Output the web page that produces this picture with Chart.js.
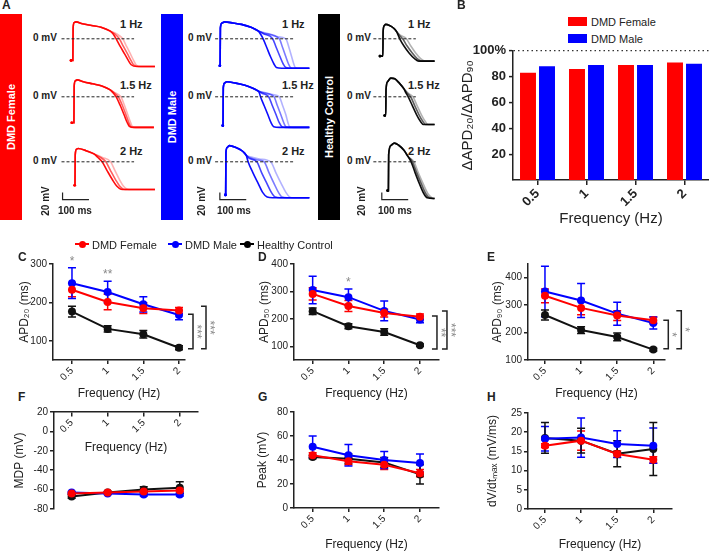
<!DOCTYPE html>
<html>
<head>
<meta charset="utf-8">
<script src="https://cdn.jsdelivr.net/npm/chart.js@4.4.0/dist/chart.umd.min.js"></script>
<style>
html, body { margin: 0; padding: 0; background: #fff; }
#fig { position: relative; width: 709px; height: 553px; overflow: hidden; font-family: 'Liberation Sans', Arial, sans-serif; color: #222; }
#fig canvas { position: absolute; }
.lbl { position: absolute; white-space: nowrap; line-height: 1; }
.blk { position: absolute; }
</style>
</head>
<body>
<div id="fig"></div>
<script>
// ---------- data ----------
const freqs = [0.5, 1, 1.5, 2];
const freqLabels = ['0.5', '1', '1.5', '2'];

// B: dAPD20/dAPD90 (%)
const ratioFemale = [83, 86, 89, 91];
const ratioMale = [88, 89, 89, 90];
const ratioTicks = [20, 40, 60, 80, 100];
const ratioTickLabels = ['20', '40', '60', '80', '100%'];

// C: APD20 (ms)
const apd20Female = [233, 201, 185, 179], apd20FemaleSem = [18, 20, 14, 8];
const apd20Male = [250, 227, 195, 167], apd20MaleSem = [40, 28, 20, 12];
const apd20Control = [176, 131, 117, 82], apd20ControlSem = [14, 8, 10, 5];
const apd20Ticks = [100, 200, 300];
const apd20Brackets = [[169, 79, '***'], [190, 79, '***']];
const apd20Stars = [[0.5, 305, '*'], [1, 271, '**']];

// D: APD50 (ms)
const apd50Female = [291, 247, 221, 208], apd50FemaleSem = [22, 20, 14, 10];
const apd50Male = [305, 279, 229, 198], apd50MaleSem = [50, 30, 36, 12];
const apd50Control = [228, 173, 152, 104], apd50ControlSem = [12, 9, 12, 4];
const apd50Ticks = [100, 200, 300, 400];
const apd50Brackets = [[210, 90, '**'], [229, 90, '***']];
const apd50Stars = [[1, 333, '*']];

// E: APD90 (ms)
const apd90Female = [334, 290, 262, 245], apd90FemaleSem = [25, 25, 18, 12];
const apd90Male = [350, 317, 269, 235], apd90MaleSem = [92, 62, 42, 22];
const apd90Control = [264, 209, 184, 138], apd90ControlSem = [18, 12, 14, 5];
const apd90Ticks = [100, 200, 300, 400];
const apd90Brackets = [[245, 141, '*'], [280, 141, '*']];

// F: MDP (mV)
const mdpFemale = [-64, -63, -62, -61], mdpFemaleSem = [1, 1, 1, 1];
const mdpMale = [-63, -64, -65, -65], mdpMaleSem = [1, 1, 1.5, 1.5];
const mdpControl = [-67, -63, -60, -58], mdpControlSem = [2, 1, 3, 6];
const mdpTicks = [-80, -60, -40, -20, 0, 20];

// G: Peak (mV)
const peakFemale = [44, 39, 36, 29], peakFemaleSem = [2, 3, 4, 3];
const peakMale = [51, 44, 40, 37.5], peakMaleSem = [9, 9, 7, 7.5];
const peakControl = [42.5, 41, 38, 28], peakControlSem = [1.5, 4, 4, 8];
const peakTicks = [0, 20, 40, 60, 80];

// H: dV/dt max (mV/ms)
const dvdtFemale = [16.5, 17.8, 14.3, 12.8], dvdtFemaleSem = [0.5, 2.5, 0.8, 0.8];
const dvdtMale = [18.3, 18.6, 16.9, 16.5], dvdtMaleSem = [3.2, 5.1, 3.5, 4.6];
const dvdtControl = [18.5, 17.8, 14.4, 15.6], dvdtControlSem = [4, 3.2, 3.4, 6.9];
const dvdtTicks = [0, 5, 10, 15, 20, 25];

// A: action potential traces, [ms, mV]; "up" = upstroke + plateau, tails = repolarisations (late -> early)
const fem1Up = [[-7,-60],[0,-60],[1,30],[5,45],[12,47],[36,42],[71,37],[107,32],[140,22]];
const fem1Tails = [
  [[165,14],[189,0],[204,-22],[218,-42],[230,-60],[239,-72],[257,-77],[311,-77]],
  [[158,14],[176,0],[192,-22],[207,-42],[220,-60],[230,-72],[250,-77],[311,-77]],
  [[152,14],[164,0],[180,-22],[196,-42],[210,-60],[221,-72],[243,-77],[311,-77]]
];
const fem2Up = [[-4,-72],[4,-72],[5,30],[9,44],[16,47],[40,42],[75,36],[110,30],[140,20]];
const fem2Tails = [
  [[156,13],[182,0],[196,-25],[208,-50],[218,-70],[225,-82],[240,-85],[307,-85]],
  [[153,13],[172,0],[188,-25],[201,-50],[211,-70],[219,-82],[235,-85],[307,-85]],
  [[150,13],[164,0],[180,-25],[194,-50],[205,-70],[214,-82],[230,-85],[307,-85]]
];
const fem3Up = [[7,-65],[8,-65],[9,20],[14,35],[20,37],[50,31],[80,22]];
const fem3Tails = [
  [[112,12],[143,0],[160,-25],[177,-50],[192,-68],[207,-76],[220,-77],[311,-77]],
  [[105,12],[125,0],[143,-25],[162,-50],[178,-68],[192,-76],[210,-77],[311,-77]],
  [[95,12],[111,0],[130,-25],[150,-50],[167,-68],[182,-76],[200,-77],[311,-77]]
];
const male1Up = [[0,-75],[1,-75],[2,30],[8,44],[18,47],[50,44],[82,40],[118,32],[145,22]];
const male1Tails = [
  [[175,16],[215,6],[250,0],[262,-25],[272,-50],[280,-70],[286,-80],[300,-82],[339,-82]],
  [[170,15],[225,0],[238,-25],[250,-50],[260,-70],[268,-80],[285,-82],[339,-82]],
  [[165,14],[200,0],[214,-25],[228,-50],[240,-70],[250,-80],[270,-82],[339,-82]],
  [[155,12],[164,0],[178,-25],[192,-50],[205,-70],[214,-80],[235,-82],[339,-82]]
];
const male2Up = [[11,-80],[12,-80],[13,25],[18,38],[26,42],[60,38],[95,32],[125,24],[145,16]];
const male2Tails = [
  [[170,12],[200,6],[225,0],[238,-25],[250,-50],[258,-72],[264,-83],[280,-85],[339,-85]],
  [[165,11],[205,0],[218,-25],[231,-50],[242,-72],[250,-83],[265,-85],[339,-85]],
  [[160,10],[185,0],[199,-25],[213,-50],[225,-72],[235,-83],[250,-85],[339,-85]],
  [[150,10],[154,0],[168,-25],[182,-50],[194,-72],[204,-83],[225,-85],[339,-85]]
];
const male3Up = [[21,-92],[22,-92],[23,25],[28,40],[36,45],[60,40],[85,30],[100,18]];
const male3Tails = [
  [[115,14],[150,8],[193,0],[212,-30],[232,-60],[250,-85],[265,-98],[280,-100],[339,-100]],
  [[112,12],[145,5],[168,0],[186,-30],[205,-60],[222,-85],[236,-98],[255,-100],[339,-100]],
  [[110,10],[140,0],[158,-30],[178,-60],[195,-85],[210,-98],[230,-100],[339,-100]],
  [[104,8],[107,0],[125,-30],[145,-60],[162,-85],[179,-98],[200,-100],[339,-100]]
];
const ctl1Up = [[-11,-48],[0,-48],[1,20],[5,36],[11,40],[25,37],[40,30],[52,20]];
const ctl1Tails = [
  [[66,10],[89,0],[106,-20],[125,-40],[143,-55],[161,-62],[196,-62]],
  [[62,10],[75,0],[92,-20],[112,-40],[130,-55],[148,-62],[196,-62]],
  [[58,10],[64,0],[80,-20],[100,-40],[120,-55],[136,-62],[196,-62]]
];
const ctl2Up = [[7,-52],[11,-52],[12,20],[18,42],[30,52],[45,50],[60,40],[80,22]];
const ctl2Tails = [
  [[96,10],[114,0],[130,-25],[146,-50],[160,-68],[171,-77],[196,-77]],
  [[92,10],[105,0],[121,-25],[137,-50],[151,-68],[163,-77],[196,-77]],
  [[88,10],[96,0],[112,-25],[128,-50],[142,-68],[154,-77],[196,-77]]
];
const ctl3Up = [[18,-80],[21,-80],[22,20],[30,45],[43,52],[60,46],[80,32],[95,15]];
const ctl3Tails = [
  [[118,0],[134,-30],[152,-60],[170,-88],[186,-100],[196,-102]],
  [[112,0],[128,-30],[145,-60],[162,-88],[177,-100],[196,-102]],
  [[107,0],[122,-30],[138,-60],[155,-88],[168,-100],[196,-102]]
];
const femZeroLine = [[-43,0],[232,0]];
const maleZeroLine = [[-18,0],[279,0]];
const ctlZeroLine = [[-36,0],[125,0]];
const femScaleBar = [[-39,-85],[-39,-105],[61,-105]];
const maleScaleBar = [[0,-85],[0,-105],[100,-105]];
const ctlScaleBar = [[-4,-85],[-4,-105],[96,-105]];

// ---------- helpers ----------
const RED = 'rgb(255,0,0)', BLUE = 'rgb(0,0,255)', BLACK = '#111';
const INK = '#222';
Chart.defaults.font.family = "'Liberation Sans', Arial, sans-serif";
Chart.defaults.color = INK;
const fig = document.getElementById('fig');

function makeCanvas(l, t, w, h) {
  const c = document.createElement('canvas');
  c.width = w; c.height = h;
  c.style.left = l + 'px'; c.style.top = t + 'px';
  fig.appendChild(c);
  return c;
}

function label(text, x, y, o = {}) {
  const d = document.createElement('div');
  d.className = 'lbl';
  d.textContent = text;
  d.style.left = x + 'px';
  d.style.top = y + 'px';
  d.style.fontSize = (o.size || 11) + 'px';
  if (o.bold) d.style.fontWeight = 'bold';
  if (o.color) d.style.color = o.color;
  d.style.transform = o.rotate ? 'translate(-50%,-50%) rotate(-90deg)' : 'translateY(-50%)';
  fig.appendChild(d);
  return d;
}

function block(x, y, w, h, bg, extra) {
  const d = document.createElement('div');
  d.className = 'blk';
  Object.assign(d.style, { left: x + 'px', top: y + 'px', width: w + 'px', height: h + 'px', background: bg }, extra || {});
  fig.appendChild(d);
}

const pts = arr => arr.map(([x, y]) => ({ x, y }));

// ---------- panel A ----------
const PX_MS = 0.28, PX_MV = 0.4, TW = 140, TH = 80;

function traceChart(left, top, rgb, up, tails, zero, bar) {
  const c = makeCanvas(left, top, TW, TH);
  const xMin = -20 / PX_MS, yMax = 32 / PX_MV;
  const n = tails.length;
  const ds = tails.map((tail, i) => ({
    data: pts(up.concat(tail)),
    borderColor: `rgba(${rgb},${(0.3 + 0.65 * i / (n - 1)).toFixed(2)})`,
    pointBackgroundColor: `rgba(${rgb},0.9)`,
    pointRadius: c => c.dataIndex === 0 ? 1.3 : 0,
    borderWidth: 1.6
  }));
  ds.unshift({ data: pts(zero), borderColor: INK, borderWidth: 1, borderDash: [3, 2] });
  if (bar) ds.push({ data: pts(bar), borderColor: INK, borderWidth: 1.2 });
  new Chart(c, {
    type: 'scatter',
    data: { datasets: ds.map(d => Object.assign({ showLine: true, pointRadius: 0, pointBorderWidth: 0, cubicInterpolationMode: 'monotone' }, d)) },
    options: {
      responsive: false, animation: false,
      plugins: { legend: { display: false }, tooltip: { enabled: false } },
      layout: { padding: 0 },
      scales: {
        x: { type: 'linear', display: false, min: xMin, max: xMin + TW / PX_MS },
        y: { display: false, min: yMax - TH / PX_MV, max: yMax }
      }
    }
  });
}

label('A', 2, 5, { bold: true, size: 12 });
block(0, 14, 22, 206, RED);
block(161, 14, 22, 206, BLUE);
block(318, 14, 22, 206, '#000');
label('DMD Female', 11, 117, { bold: true, rotate: true, color: '#fff', size: 11 });
label('DMD Male', 172, 117, { bold: true, rotate: true, color: '#fff', size: 11 });
label('Healthy Control', 329, 117, { bold: true, rotate: true, color: '#fff', size: 11 });

const rowZero = [38, 96, 161];
const rowHz = ['1 Hz', '1.5 Hz', '2 Hz'];
const rowHzY = [24, 85, 151];
[[33, 120], [188, 282], [347, 408]].forEach(([zx, hx]) => {
  rowZero.forEach(z => label('0 mV', zx, z, { bold: true, size: 10 }));
  rowHz.forEach((h, i) => label(h, hx, rowHzY[i], { bold: true, size: 11 }));
});

traceChart(50, rowZero[0] - 32, '255,0,0', fem1Up, fem1Tails, femZeroLine);
traceChart(50, rowZero[1] - 32, '255,0,0', fem2Up, fem2Tails, femZeroLine);
traceChart(50, rowZero[2] - 32, '255,0,0', fem3Up, fem3Tails, femZeroLine, femScaleBar);
traceChart(197, rowZero[0] - 32, '0,0,255', male1Up, male1Tails, maleZeroLine);
traceChart(197, rowZero[1] - 32, '0,0,255', male2Up, male2Tails, maleZeroLine);
traceChart(197, rowZero[2] - 32, '0,0,255', male3Up, male3Tails, maleZeroLine, maleScaleBar);
traceChart(360, rowZero[0] - 32, '0,0,0', ctl1Up, ctl1Tails, ctlZeroLine);
traceChart(360, rowZero[1] - 32, '0,0,0', ctl2Up, ctl2Tails, ctlZeroLine);
traceChart(360, rowZero[2] - 32, '0,0,0', ctl3Up, ctl3Tails, ctlZeroLine, ctlScaleBar);

[[46, 58], [202, 217], [362, 378]].forEach(([vx, hx]) => {
  label('20 mV', vx, 201, { bold: true, size: 10, rotate: true });
  label('100 ms', hx, 211, { bold: true, size: 10 });
});

// ---------- panel B ----------
label('B', 457, 5, { bold: true, size: 12 });
block(568, 17, 19, 9, RED);
block(568, 34, 19, 9, BLUE);
label('DMD Female', 591, 21.5, { size: 11 });
label('DMD Male', 591, 38.5, { size: 11 });

new Chart(makeCanvas(455, 40, 254, 192), {
  type: 'bar',
  data: {
    labels: freqLabels,
    datasets: [
      { label: 'DMD Female', data: ratioFemale, backgroundColor: RED },
      { label: 'DMD Male', data: ratioMale, backgroundColor: BLUE }
    ]
  },
  options: {
    responsive: false, animation: false,
    datasets: { bar: { categoryPercentage: 0.776, barPercentage: 0.84 } },
    plugins: { legend: { display: false }, tooltip: { enabled: false } },
    layout: { padding: { top: 10, left: 0, right: 0, bottom: 0 } },
    scales: {
      x: {
        grid: { display: true, offset: false, drawOnChartArea: false, tickLength: 5, color: INK, lineWidth: 1.5 },
        border: { color: INK, width: 1.5 },
        ticks: { font: { size: 13, weight: 'bold' }, color: INK, minRotation: 45, maxRotation: 45, padding: 1 },
        title: { display: true, text: 'Frequency (Hz)', font: { size: 15 }, color: INK, padding: 4 },
        afterFit: s => { s.height = 52; }
      },
      y: {
        min: 0, max: 100,
        afterBuildTicks: s => { s.ticks = ratioTicks.map(v => ({ value: v })); },
        ticks: { font: { size: 13, weight: 'bold' }, color: INK, padding: 3, callback: (v, i) => ratioTickLabels[i] },
        grid: { display: true, tickLength: 4, lineWidth: 1.2, color: c => c.tick && c.tick.value === 100 ? '#333' : 'rgba(0,0,0,0)', tickColor: INK, tickWidth: 1.5 },
        border: { color: INK, width: 1.5, dash: [1.5, 3] },
        title: { display: true, text: 'ΔAPD₂₀/ΔAPD₉₀', font: { size: 15 }, color: INK, padding: 4 },
        afterFit: s => { s.width = 58; }
      }
    }
  }
});

// ---------- panels C-H ----------
const errorBars = {
  id: 'errorBars',
  beforeDatasetsDraw(chart) {
    const { ctx } = chart, ys = chart.scales.y;
    chart.data.datasets.forEach((ds, i) => {
      const meta = chart.getDatasetMeta(i);
      ctx.save();
      ctx.strokeStyle = ds.borderColor;
      ctx.lineWidth = 1.5;
      meta.data.forEach((p, j) => {
        const v = ds.data[j].y, e = ds.errors[j];
        const y1 = ys.getPixelForValue(v + e), y2 = ys.getPixelForValue(v - e);
        ctx.beginPath();
        ctx.moveTo(p.x, y1); ctx.lineTo(p.x, y2);
        ctx.moveTo(p.x - 4, y1); ctx.lineTo(p.x + 4, y1);
        ctx.moveTo(p.x - 4, y2); ctx.lineTo(p.x + 4, y2);
        ctx.stroke();
      });
      ctx.restore();
    });
  }
};

const sigMarks = {
  id: 'sigMarks',
  afterDraw(chart, args, o) {
    const { ctx } = chart, xs = chart.scales.x, ys = chart.scales.y;
    ctx.save();
    (o.brackets || []).forEach(([from, to, txt], i) => {
      const xr = xs.getPixelForValue(2) + o.dx[i];
      const y1 = ys.getPixelForValue(from), y2 = ys.getPixelForValue(to);
      ctx.strokeStyle = INK; ctx.lineWidth = 1.5;
      ctx.beginPath();
      ctx.moveTo(xr - 5, y1); ctx.lineTo(xr, y1); ctx.lineTo(xr, y2); ctx.lineTo(xr - 5, y2);
      ctx.stroke();
      ctx.save();
      ctx.translate(xr + 3, (y1 + y2) / 2);
      ctx.rotate(Math.PI / 2);
      ctx.fillStyle = '#888'; ctx.font = "12px 'Liberation Sans', Arial";
      ctx.textAlign = 'center'; ctx.textBaseline = 'middle';
      ctx.fillText(txt, 0, 0);
      ctx.restore();
    });
    (o.stars || []).forEach(([fx, v, txt]) => {
      ctx.fillStyle = '#888'; ctx.font = "12px 'Liberation Sans', Arial";
      ctx.textAlign = 'center'; ctx.textBaseline = 'middle';
      ctx.fillText(txt, xs.getPixelForValue(fx), ys.getPixelForValue(v));
    });
    ctx.restore();
  }
};

function freqChart(g, yTitle, yMin, yMax, yTicks, series, sig) {
  const padLeft = g.titleX - g.l - 4 - 7.2;
  const yWidth = g.L - g.l - padLeft;
  const floatX = g.xAt !== undefined;
  new Chart(makeCanvas(g.l, g.t, g.w, g.h), {
    type: 'scatter',
    data: {
      datasets: series.map(([mean, sem, color]) => ({
        data: freqs.map((f, i) => ({ x: f, y: mean[i] })),
        errors: sem, showLine: true,
        borderColor: color, backgroundColor: color, borderWidth: 2,
        pointRadius: 4, pointBorderWidth: 0
      }))
    },
    options: {
      responsive: false, animation: false,
      plugins: { legend: { display: false }, tooltip: { enabled: false }, sigMarks: sig || {} },
      layout: { padding: { left: padLeft, top: g.T - g.t, right: g.l + g.w - g.R, bottom: floatX ? g.t + g.h - g.B : 0 } },
      scales: {
        x: {
          type: 'linear', min: g.xMin, max: g.xMax,
          position: floatX ? { y: g.xAt } : 'bottom',
          afterBuildTicks: s => { s.ticks = freqs.map(v => ({ value: v })); },
          ticks: { callback: (v, i) => freqLabels[i], minRotation: 45, maxRotation: 45, font: { size: 10 }, color: INK, padding: 1 },
          grid: { display: true, drawOnChartArea: false, tickLength: 4, color: INK, lineWidth: 1.5 },
          border: { color: INK, width: 1.5 },
          title: { display: true, text: 'Frequency (Hz)', font: { size: 12 }, color: INK, padding: 4 },
          afterFit: s => { if (!floatX) s.height = g.t + g.h - g.B; }
        },
        y: {
          min: yMin, max: yMax,
          afterBuildTicks: s => { s.ticks = yTicks.map(v => ({ value: v })); },
          ticks: { font: { size: 10 }, color: INK, padding: 2 },
          grid: { display: true, drawOnChartArea: false, tickLength: 4, color: INK, lineWidth: 1.5 },
          border: { color: INK, width: 1.5 },
          title: { display: true, text: yTitle, font: { size: 12 }, color: INK, padding: 4 },
          afterFit: s => { s.width = yWidth; }
        }
      }
    },
    plugins: [errorBars, sigMarks]
  });
}

// legend shared by C-H
[['DMD Female', RED, 82], ['DMD Male', BLUE, 175], ['Healthy Control', '#000', 247]].forEach(([t, c, x]) => {
  block(x - 7, 243, 14, 2, c);
  block(x - 3.5, 240.5, 7, 7, c, { borderRadius: '50%' });
  label(t, x + 10, 244.5, { size: 11 });
});

label('C', 18, 257, { bold: true, size: 12 });
label('D', 258, 257, { bold: true, size: 12 });
label('E', 487, 257, { bold: true, size: 12 });
label('F', 18, 397, { bold: true, size: 12 });
label('G', 258, 397, { bold: true, size: 12 });
label('H', 487, 397, { bold: true, size: 12 });

freqChart({ l: 0, t: 255, w: 225, h: 150, L: 53, T: 264, R: 185, B: 360, titleX: 25, xMin: 0.234, xMax: 2.084 },
  'APD₂₀ (ms)', 50, 300, apd20Ticks,
  [[apd20Female, apd20FemaleSem, RED], [apd20Male, apd20MaleSem, BLUE], [apd20Control, apd20ControlSem, BLACK]],
  { brackets: apd20Brackets, dx: [14, 27], stars: apd20Stars });

freqChart({ l: 240, t: 255, w: 230, h: 150, L: 294, T: 264, R: 439, B: 360, titleX: 265, xMin: 0.239, xMax: 2.266 },
  'APD₅₀ (ms)', 50, 400, apd50Ticks,
  [[apd50Female, apd50FemaleSem, RED], [apd50Male, apd50MaleSem, BLUE], [apd50Control, apd50ControlSem, BLACK]],
  { brackets: apd50Brackets, dx: [17, 27], stars: apd50Stars });

freqChart({ l: 470, t: 255, w: 239, h: 150, L: 528, T: 264, R: 665, B: 360, titleX: 498, xMin: 0.265, xMax: 2.162 },
  'APD₉₀ (ms)', 100, 450, apd90Ticks,
  [[apd90Female, apd90FemaleSem, RED], [apd90Male, apd90MaleSem, BLUE], [apd90Control, apd90ControlSem, BLACK]],
  { brackets: apd90Brackets, dx: [15, 28] });

freqChart({ l: 0, t: 402, w: 225, h: 154, L: 54, T: 412, R: 198, B: 509, titleX: 20, xMin: 0.255, xMax: 2.253, xAt: 20 },
  'MDP (mV)', -80, 20, mdpTicks,
  [[mdpFemale, mdpFemaleSem, RED], [mdpMale, mdpMaleSem, BLUE], [mdpControl, mdpControlSem, BLACK]]);

freqChart({ l: 240, t: 402, w: 230, h: 154, L: 294, T: 412, R: 439, B: 508, titleX: 263, xMin: 0.239, xMax: 2.266 },
  'Peak (mV)', 0, 80, peakTicks,
  [[peakFemale, peakFemaleSem, RED], [peakMale, peakMaleSem, BLUE], [peakControl, peakControlSem, BLACK]]);

freqChart({ l: 470, t: 402, w: 239, h: 154, L: 528, T: 413, R: 672, B: 509, titleX: 493, xMin: 0.265, xMax: 2.259 },
  'dV/dtₘₐₓ (mV/ms)', 0, 25, dvdtTicks,
  [[dvdtFemale, dvdtFemaleSem, RED], [dvdtMale, dvdtMaleSem, BLUE], [dvdtControl, dvdtControlSem, BLACK]]);
</script>
</body>
</html>
